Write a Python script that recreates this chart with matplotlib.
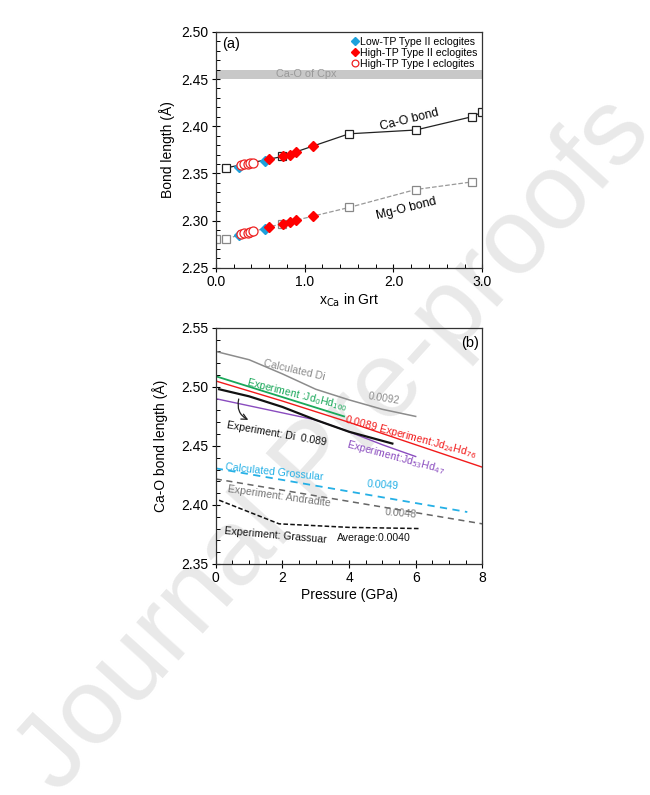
import numpy as np
import matplotlib.pyplot as plt
from matplotlib.ticker import MultipleLocator

plt.rcParams['font.family'] = ['Liberation Sans', 'DejaVu Sans']

# ---- panel (a) data ----
# Ca-O and Mg-O bond lengths of end members / reference garnets (open squares)
cao_x = [0.12, 0.75, 1.50, 2.25, 2.88, 3.00]
cao_y = [2.356, 2.368, 2.392, 2.396, 2.410, 2.415]
mgo_x = [0.00, 0.12, 0.75, 1.50, 2.25, 2.88]
mgo_y = [2.281, 2.281, 2.297, 2.314, 2.333, 2.341]

# eclogite garnets
low2_x = [0.26, 0.55]
low2_cao = [2.357, 2.363]
low2_mgo = [2.285, 2.291]
high2_x = [0.60, 0.76, 0.84, 0.90, 1.09]
high2_cao = [2.365, 2.368, 2.370, 2.373, 2.379]
high2_mgo = [2.293, 2.297, 2.299, 2.301, 2.305]
high1_x = [0.28, 0.32, 0.36, 0.39, 0.42]
high1_cao = [2.359, 2.360, 2.360, 2.361, 2.361]
high1_mgo = [2.286, 2.287, 2.287, 2.288, 2.289]

# ---- panel (b) data ----
calc_di_p = [0.0, 1.0, 2.0, 3.0, 4.0, 5.0, 6.0]
calc_di_y = [2.530, 2.523, 2.511, 2.498, 2.489, 2.481, 2.475]
jd0_p = [0.0, 3.85]
jd0_y = [2.509, 2.475]
jd24_p = [0.0, 2.0, 4.0, 6.0, 8.0]
jd24_y = [2.505, 2.488, 2.470, 2.451, 2.432]
di_p = [0.1, 1.0, 2.0, 3.0, 4.0, 5.3]
di_y = [2.498, 2.492, 2.483, 2.472, 2.462, 2.452]
jd53_p = [0.0, 1.0, 2.0, 3.0, 4.0, 5.0, 6.0]
jd53_y = [2.490, 2.484, 2.478, 2.472, 2.462, 2.451, 2.441]
calc_gro_p = [0.0, 7.55]
calc_gro_y = [2.431, 2.394]
andr_p = [0.0, 8.0]
andr_y = [2.422, 2.384]
gro_p = [0.1, 1.9, 4.0, 6.1]
gro_y = [2.404, 2.384, 2.381, 2.380]

fig = plt.figure(figsize=(6.5, 7.95), dpi=100)

fig.text(0.515, 0.44, 'Journal Pre-proofs', fontsize=78, color='#e9e9e9',
         rotation=48, ha='center', va='center', zorder=-1)

def style_axes(ax):
    ax.patch.set_facecolor('none')
    for s in ax.spines.values():
        s.set_linewidth(0.9)
        s.set_color('#333333')
    ax.tick_params(which='major', direction='inout', length=6, width=0.8,
                   labelsize=10, pad=2)
    ax.tick_params(which='minor', direction='in', length=3, width=0.7)

# ---------------- (a) ----------------
ax1 = fig.add_axes([0.332, 0.663, 0.41, 0.297])
style_axes(ax1)
ax1.axhspan(2.450, 2.460, color='#c8c8c8', lw=0, zorder=0)
ax1.text(1.02, 2.455, 'Ca-O of Cpx', color='#999999', fontsize=7.8,
         ha='center', va='center')

ax1.plot(cao_x, cao_y, '-', color='#222222', lw=0.9, marker='s', ms=6,
         mfc='white', mec='#222222', mew=0.9, zorder=2)
ax1.plot(mgo_x[1:], mgo_y[1:], '--', color='#999999', lw=0.9, zorder=2)
ax1.plot(mgo_x, mgo_y, 's', ms=6, mfc='white', mec='#888888', mew=0.9, zorder=2)

ax1.plot(low2_x, low2_cao, 'D', color='#1da1dc', ms=5.5, zorder=3,
         label='Low-TP Type II eclogites')
ax1.plot(low2_x, low2_mgo, 'D', color='#1da1dc', ms=5.5, zorder=3)
ax1.plot(high2_x, high2_cao, 'D', color='#ff0000', ms=5.5, zorder=3,
         label='High-TP Type II eclogites')
ax1.plot(high2_x, high2_mgo, 'D', color='#ff0000', ms=5.5, zorder=3)
ax1.plot(high1_x, high1_cao, 'o', mfc='white', mec='#ee2222', ms=6.5, mew=0.9,
         zorder=4, label='High-TP Type I eclogites')
ax1.plot(high1_x, high1_mgo, 'o', mfc='white', mec='#ee2222', ms=6.5, mew=0.9,
         zorder=4)

ax1.text(2.18, 2.407, 'Ca-O bond', fontsize=8.8, rotation=14, ha='center', va='center')
ax1.text(2.14, 2.3125, 'Mg-O bond', fontsize=8.8, rotation=14, ha='center', va='center')
ax1.text(0.07, 2.487, '(a)', fontsize=10.5, ha='left', va='center')

ax1.legend(loc='upper right', fontsize=7.6, frameon=False, handlelength=0.5,
           handletextpad=0.25, borderaxespad=0.25, labelspacing=0.12,
           borderpad=0.2, markerscale=0.75)

ax1.set_xlim(0, 3)
ax1.set_ylim(2.25, 2.50)
ax1.set_xticks([0, 1, 2, 3])
ax1.set_xticklabels(['0.0', '1.0', '2.0', '3.0'])
ax1.xaxis.set_minor_locator(MultipleLocator(0.2))
ax1.set_yticks(np.arange(2.25, 2.501, 0.05))
ax1.set_yticklabels(['2.25', '2.30', '2.35', '2.40', '2.45', '2.50'])
ax1.yaxis.set_minor_locator(MultipleLocator(0.01))
ax1.set_xlabel(r'x$_{\mathrm{Ca}}$ in Grt', fontsize=10, labelpad=2)
ax1.set_ylabel('Bond length (Å)', fontsize=10, labelpad=5)

# ---------------- (b) ----------------
ax2 = fig.add_axes([0.332, 0.2906, 0.41, 0.297])
style_axes(ax2)

ax2.plot(calc_di_p, calc_di_y, '-', color='#8c8c8c', lw=1.1)
ax2.plot(jd0_p, jd0_y, '-', color='#1aa85a', lw=1.3)
ax2.plot(jd24_p, jd24_y, '-', color='#f21a1a', lw=1.0)
ax2.plot(jd53_p, jd53_y, '-', color='#8a4cbf', lw=1.0)
ax2.plot(di_p, di_y, '-', color='#111111', lw=1.6)
ax2.plot(calc_gro_p, calc_gro_y, '--', color='#25b0e6', lw=1.3, dashes=(4, 3))
ax2.plot(andr_p, andr_y, '--', color='#666666', lw=1.1, dashes=(4, 3))
ax2.plot(gro_p, gro_y, '--', color='#111111', lw=1.1, dashes=(3, 1.5))

ax2.annotate('', xy=(1.05, 2.471), xytext=(0.71, 2.492),
             arrowprops=dict(arrowstyle='->', color='#222222', lw=0.9,
                             connectionstyle='arc3,rad=0.45'))

fs = 7.6
ax2.text(2.35, 2.514, 'Calculated Di', color='#8c8c8c', fontsize=fs, rotation=-13,
         ha='center', va='center')
ax2.text(5.05, 2.490, '0.0092', color='#8c8c8c', fontsize=fs, rotation=-9,
         ha='center', va='center')
ax2.text(2.43, 2.4935, r'Experiment :Jd$_0$Hd$_{100}$', color='#1aa85a', fontsize=fs,
         rotation=-14, ha='center', va='center')
ax2.text(5.85, 2.4575, r'0.0089 Experiment:Jd$_{24}$Hd$_{76}$', color='#f21a1a',
         fontsize=fs, rotation=-15, ha='center', va='center')
ax2.text(1.82, 2.460, 'Experiment: Di  0.089', color='#111111', fontsize=fs,
         rotation=-10, ha='center', va='center')
ax2.text(5.4, 2.440, r'Experiment:Jd$_{53}$Hd$_{47}$', color='#8a4cbf', fontsize=fs,
         rotation=-15, ha='center', va='center')
ax2.text(1.75, 2.428, 'Calculated Grossular', color='#25b0e6', fontsize=fs,
         rotation=-6, ha='center', va='center')
ax2.text(5.0, 2.417, '0.0049', color='#25b0e6', fontsize=fs, rotation=-4,
         ha='center', va='center')
ax2.text(1.9, 2.407, 'Experiment: Andradite', color='#777777', fontsize=fs,
         rotation=-8, ha='center', va='center')
ax2.text(5.55, 2.393, '0.0048', color='#777777', fontsize=fs, rotation=-5,
         ha='center', va='center')
ax2.text(1.8, 2.3745, 'Experiment: Grassuar', color='#111111', fontsize=fs,
         rotation=-5, ha='center', va='center')
ax2.text(4.75, 2.3718, 'Average:0.0040', color='#111111', fontsize=fs,
         ha='center', va='center')
ax2.text(7.62, 2.537, '(b)', fontsize=10.5, ha='center', va='center')

ax2.set_xlim(0, 8)
ax2.set_ylim(2.35, 2.55)
ax2.set_xticks([0, 2, 4, 6, 8])
ax2.xaxis.set_minor_locator(MultipleLocator(0.5))
ax2.set_yticks(np.arange(2.35, 2.551, 0.05))
ax2.set_yticklabels(['2.35', '2.40', '2.45', '2.50', '2.55'])
ax2.yaxis.set_minor_locator(MultipleLocator(0.01))
ax2.set_xlabel('Pressure (GPa)', fontsize=10, labelpad=2)
ax2.set_ylabel('Ca-O bond length (Å)', fontsize=10, labelpad=10)

fig.savefig('out.png', dpi=100)
